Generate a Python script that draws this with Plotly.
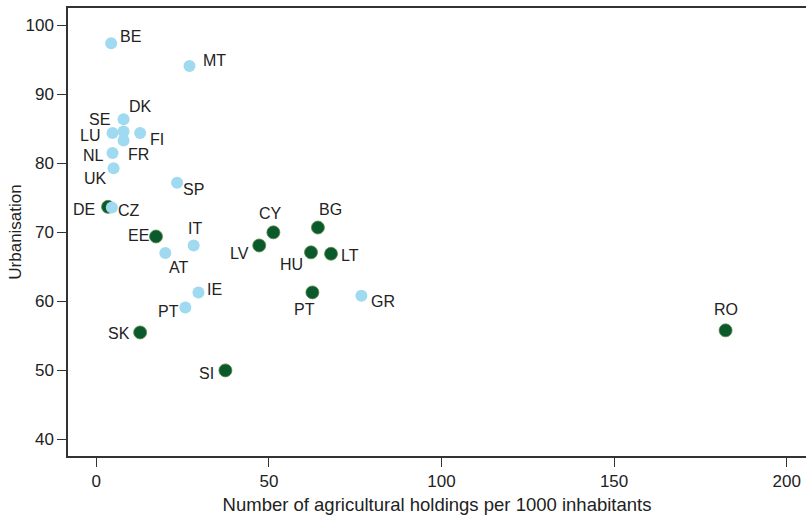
import plotly.graph_objects as go

# Old member states (light blue)
old_codes = ["BE", "MT", "DK", "SE", "LU", "FI", "FR", "NL", "UK", "SP", "CZ",
             "AT", "IT", "IE", "PT", "GR"]
old_holdings = [4.3, 27.0, 7.9, 7.9, 4.7, 12.7, 7.9, 4.7, 5.0, 23.4, 4.5,
                20.0, 28.2, 29.6, 25.8, 76.8]
old_urban = [97.4, 94.1, 86.4, 84.6, 84.4, 84.4, 83.3, 81.5, 79.3, 77.2, 73.6,
             67.0, 68.1, 61.3, 59.1, 60.8]

# New member states (dark green)
new_codes = ["DE", "EE", "SK", "SI", "CY", "LV", "BG", "HU", "LT", "PT", "RO"]
new_holdings = [3.4, 17.3, 12.7, 37.4, 51.3, 47.2, 64.2, 62.2, 68.0, 62.6, 182.3]
new_urban = [73.7, 69.4, 55.5, 50.0, 70.0, 68.1, 70.7, 67.1, 66.9, 61.3, 55.8]

x_ticks = [0, 50, 100, 150, 200]
y_ticks = [40, 50, 60, 70, 80, 90, 100]

# label pixel offsets (styling only)
old_offsets = {"BE": (19, 7), "MT": (25, 5), "DK": (17, 13), "SE": (-24, 12),
               "LU": (-23, -3), "FI": (17, -7), "FR": (15, -14), "NL": (-19, -3),
               "UK": (-18, -10), "SP": (16, -7), "CZ": (17, -3), "AT": (13, -14),
               "IT": (1, 17), "IE": (16, 3), "PT": (-17, -4), "GR": (22, -6)}
new_offsets = {"DE": (-24, -3), "EE": (-18, 1), "SK": (-21, -1), "SI": (-19, -3),
               "CY": (-3, 19), "LV": (-20, -8), "BG": (13, 18), "HU": (-20, -12),
               "LT": (19, -2), "PT": (-8, -17), "RO": (0, 21)}

FONT = "Liberation Sans, Arial, Helvetica, sans-serif"

fig = go.Figure()
fig.add_trace(go.Scatter(
    x=new_holdings, y=new_urban, mode="markers",
    marker=dict(size=13, color="#0a5a2c", line=dict(color="#5f8a4a", width=0.8)),
    hoverinfo="text", text=new_codes, showlegend=False))
fig.add_trace(go.Scatter(
    x=old_holdings, y=old_urban, mode="markers",
    marker=dict(size=12, color="#9fdaf1", line=dict(width=0)),
    hoverinfo="text", text=old_codes, showlegend=False))

annotations = []
for codes, xs, ys, offs in [(old_codes, old_holdings, old_urban, old_offsets),
                            (new_codes, new_holdings, new_urban, new_offsets)]:
    for c, xv, yv in zip(codes, xs, ys):
        dx, dy = offs[c]
        annotations.append(dict(x=xv, y=yv, xref="x", yref="y", text=c,
                                showarrow=False, xshift=dx, yshift=dy,
                                font=dict(family=FONT, size=16, color="#222222")))

fig.update_layout(
    width=806, height=515,
    margin=dict(l=68, r=0, t=8, b=59),
    paper_bgcolor="white", plot_bgcolor="white",
    font=dict(family=FONT, size=17, color="#222222"),
    annotations=annotations,
    xaxis=dict(range=[-8.2, 205.6], tickvals=x_ticks, ticks="outside", ticklen=9,
               tickwidth=1, tickcolor="#333333", showline=True, linecolor="#333333",
               linewidth=1.5, mirror=True, showgrid=False, zeroline=False,
               title=dict(text="Number of agricultural holdings per 1000 inhabitants",
                          font=dict(size=18.5), standoff=8),
               tickfont=dict(size=17)),
    yaxis=dict(range=[37.6, 102.5], tickvals=y_ticks, ticks="outside", ticklen=9,
               tickwidth=1, tickcolor="#333333", showline=True, linecolor="#333333",
               linewidth=1.5, mirror=False, showgrid=False, zeroline=False,
               title=dict(text="Urbanisation", font=dict(size=17), standoff=0),
               tickfont=dict(size=17)),
)

fig.write_html("out.html", config={"displayModeBar": False},
               post_script="document.body.style.margin='0';")
